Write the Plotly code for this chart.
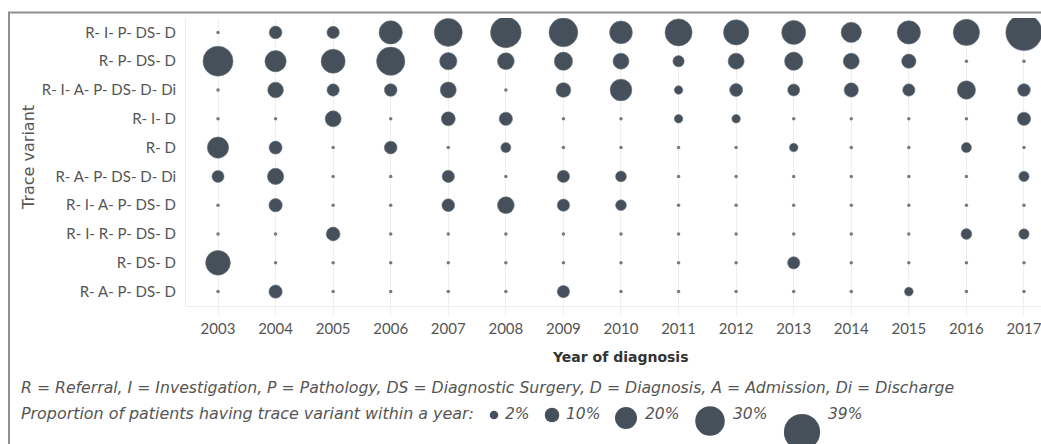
import plotly.graph_objects as go

# ---------------- data ----------------
variants = [
    "R- I- P- DS- D",
    "R- P- DS- D",
    "R- I- A- P- DS- D- Di",
    "R- I- D",
    "R- D",
    "R- A- P- DS- D- Di",
    "R- I- A- P- DS- D",
    "R- I- R- P- DS- D",
    "R- DS- D",
    "R- A- P- DS- D",
]
years = [2003, 2004, 2005, 2006, 2007, 2008, 2009, 2010, 2011, 2012, 2013, 2014, 2015, 2016, 2017]

# proportion (%) of patients having the trace variant within a year
r_i_p_ds_d      = [0, 7.6, 7.1, 21.7, 28.0, 31.6, 29.0, 21.0, 26.7, 24.4, 22.7, 17.7, 21.7, 25.7, 39.0]
r_p_ds_d        = [30.7, 19.0, 22.7, 28.4, 13.7, 13.0, 15.0, 12.0, 5.7, 12.0, 15.0, 12.0, 9.7, 0, 0]
r_i_a_p_ds_d_di = [0, 11.6, 7.0, 7.6, 12.0, 0, 10.3, 19.6, 2.0, 8.0, 6.7, 9.7, 7.0, 15.0, 7.6]
r_i_d           = [0, 0, 12.0, 0, 9.3, 8.4, 0, 0, 2.0, 2.0, 0, 0, 0, 0, 8.4]
r_d             = [19.0, 8.0, 0, 7.6, 0, 4.0, 0, 0, 0, 0, 2.0, 0, 0, 4.0, 0]
r_a_p_ds_d_di   = [6.7, 12.4, 0, 0, 7.0, 0, 7.0, 5.0, 0, 0, 0, 0, 0, 0, 4.4]
r_i_a_p_ds_d    = [0, 8.4, 0, 0, 7.6, 13.0, 7.0, 5.0, 0, 0, 0, 0, 0, 0, 0]
r_i_r_p_ds_d    = [0, 0, 9.0, 0, 0, 0, 0, 0, 0, 0, 0, 0, 0, 5.0, 4.4]
r_ds_d          = [23.6, 0, 0, 0, 0, 0, 0, 0, 0, 0, 7.0, 0, 0, 0, 0]
r_a_p_ds_d      = [0, 8.4, 0, 0, 0, 0, 7.0, 0, 0, 0, 0, 0, 2.3, 0, 0]

series = [r_i_p_ds_d, r_p_ds_d, r_i_a_p_ds_d_di, r_i_d, r_d,
          r_a_p_ds_d_di, r_i_a_p_ds_d, r_i_r_p_ds_d, r_ds_d, r_a_p_ds_d]

legend_values = [2, 10, 20, 30, 39]

abbrev_text = ("R = Referral, I = Investigation, P = Pathology, DS = Diagnostic Surgery, "
               "D = Diagnosis, A = Admission, Di = Discharge")
size_text = "Proportion of patients having trace variant within a year:"

# ---------------- style ----------------
W, H = 1041, 444
ML, MR, MT, MB = 186, 0, 18, 138
PW, PH = W - ML - MR, H - MT - MB
DOT = "#46505b"
TINY = "#737b85"
FONT = "Lato"
WIDE = "DejaVu Sans"


def diam(p):
    return 7 + 0.75 * p


def px(x):
    return (x - ML) / PW


def py(y):
    return (H - MB - y) / PH


xs, ys, ss = [], [], []
zx, zy = [], []
for v, vals in zip(variants, series):
    for yr, p in zip(years, vals):
        if p > 0:
            xs.append(yr); ys.append(v); ss.append(diam(p))
        else:
            zx.append(yr); zy.append(v)

fig = go.Figure()
fig.add_trace(go.Scatter(x=zx, y=zy, mode="markers",
                         marker=dict(size=3.5, color=TINY, line=dict(width=0)),
                         hoverinfo="skip", showlegend=False))
fig.add_trace(go.Scatter(x=xs, y=ys, mode="markers",
                         marker=dict(size=ss, color=DOT, sizemode="diameter",
                                     line=dict(width=0.6, color="#6a737d"), opacity=1),
                         showlegend=False))

step = 57.57
fig.update_xaxes(range=[2003 - 32 / step, 2003 + (W - ML - 32) / step],
                 tickmode="array", tickvals=years, ticktext=[str(y) for y in years],
                 showgrid=True, gridcolor="#efefef", gridwidth=1,
                 showline=True, linecolor="#ececec", linewidth=1,
                 ticks="outside", ticklen=9, tickcolor="#efefef",
                 ticklabeloverflow="allow",
                 tickfont=dict(family=FONT, size=15, color="#555555"),
                 zeroline=False, fixedrange=True)
fig.update_yaxes(type="category", categoryorder="array", categoryarray=variants,
                 range=[len(variants) - 0.5, -0.5],
                 showgrid=False, showline=True, linecolor="#ececec", linewidth=1,
                 ticks="", ticklabelstandoff=6,
                 tickfont=dict(family=FONT, size=15, color="#555555"),
                 zeroline=False, fixedrange=True)

shapes = [
    # outer frame
    dict(type="rect", xref="paper", yref="paper", x0=px(9), x1=px(W + 20),
         y0=py(H + 20), y1=py(12.5), line=dict(color="#8e8e8e", width=2),
         fillcolor="rgba(0,0,0,0)", layer="below"),
]

annotations = [
    dict(text="Trace variant", xref="paper", yref="paper", x=px(28), y=py(158),
         textangle=-90, showarrow=False, xanchor="center", yanchor="middle",
         font=dict(family=WIDE, size=16, color="#555555")),
    dict(text="<b>Year of diagnosis</b>", xref="paper", yref="paper", x=px(620), y=py(357),
         showarrow=False, xanchor="center", yanchor="middle",
         font=dict(family=WIDE, size=14, color="#333333")),
    dict(text="<i>" + abbrev_text + "</i>", xref="paper", yref="paper", x=px(19), y=py(387),
         showarrow=False, xanchor="left", yanchor="middle",
         font=dict(family=WIDE, size=15.7, color="#555555")),
    dict(text="<i>" + size_text + "</i>", xref="paper", yref="paper", x=px(19), y=py(413),
         showarrow=False, xanchor="left", yanchor="middle",
         font=dict(family=WIDE, size=15.9, color="#555555")),
]

leg_cx = [494, 552, 626, 710, 802]
leg_cy = [415, 415, 418, 421, 432]
leg_tx = [503, 564, 643, 731, 826]
for v, cx, cy, tx in zip(legend_values, leg_cx, leg_cy, leg_tx):
    r = diam(v) / 2
    shapes.append(dict(type="circle", xref="paper", yref="paper",
                       xsizemode="pixel", ysizemode="pixel",
                       xanchor=px(cx), yanchor=py(cy),
                       x0=-r, x1=r, y0=-r, y1=r,
                       fillcolor=DOT, line=dict(width=0)))
    annotations.append(dict(text="<i>%d%%</i>" % v, xref="paper", yref="paper",
                            x=px(tx), y=py(414), showarrow=False,
                            xanchor="left", yanchor="middle",
                            font=dict(family=WIDE, size=15.5, color="#555555")))

fig.update_layout(width=W, height=H,
                  margin=dict(l=ML, r=MR, t=MT, b=MB, pad=0),
                  paper_bgcolor="white", plot_bgcolor="white",
                  shapes=shapes, annotations=annotations,
                  font=dict(family=FONT))

fig.write_html("out.html", config={"displayModeBar": False},
               post_script="document.body.style.margin='0';document.body.style.overflow='hidden';")
